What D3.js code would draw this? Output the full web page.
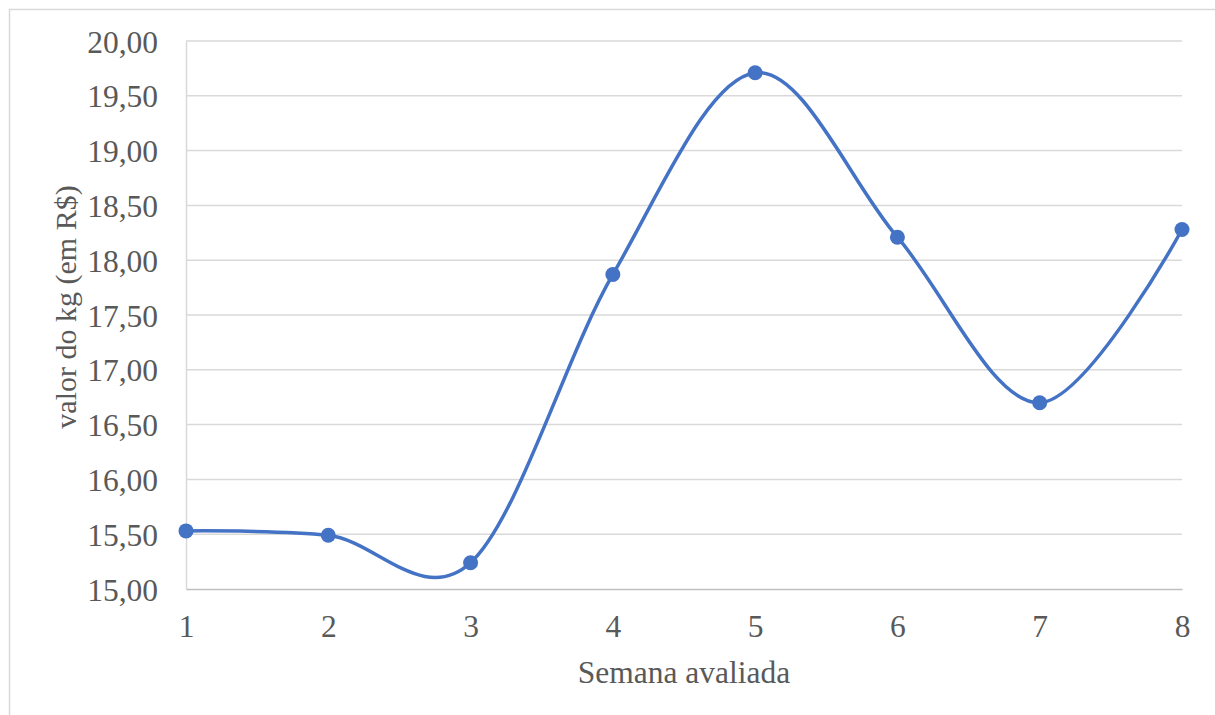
<!DOCTYPE html>
<html>
<head>
<meta charset="utf-8">
<script src="https://cdn.jsdelivr.net/npm/d3@7"></script>
<style>
  body { margin: 0; background: #fff; }
</style>
</head>
<body>
<div id="chart"></div>
<script>
// semanas e preço do kg
const weeks = [1, 2, 3, 4, 5, 6, 7, 8];
const prices = [15.53, 15.49, 15.24, 17.87, 19.71, 18.21, 16.70, 18.28];
const yTicks = [15, 15.5, 16, 16.5, 17, 17.5, 18, 18.5, 19, 19.5, 20];

const FONT = "'Liberation Serif', 'Times New Roman', serif";
const W = 1215, H = 715;
const margin = {top: 41, right: 33, bottom: 126, left: 186};
const width = W - margin.left - margin.right;
const height = H - margin.top - margin.bottom;

const svg = d3.select("#chart").append("svg")
    .attr("width", W)
    .attr("height", H);

// moldura do gráfico
svg.append("rect")
    .attr("x", 9.5).attr("y", 9.5)
    .attr("width", W).attr("height", H)
    .attr("fill", "none")
    .attr("stroke", "#d9d9d9")
    .attr("stroke-width", 1.5);

const g = svg.append("g")
    .attr("transform", `translate(${margin.left},${margin.top})`);

const x = d3.scaleLinear().domain([1, 8]).range([0, width]);
const y = d3.scaleLinear().domain([15, 20]).range([height, 0]);

const fmt = v => v.toFixed(2).replace(".", ",");

// grid
g.append("g")
    .selectAll("line")
    .data(yTicks.slice(1))
    .enter()
    .append("line")
    .attr("x1", 0).attr("x2", width)
    .attr("y1", d => y(d)).attr("y2", d => y(d))
    .attr("stroke", "#d9d9d9")
    .attr("stroke-width", 1.5);

// eixo y
const yAxis = g.append("g")
    .call(d3.axisLeft(y).tickValues(yTicks).tickFormat(fmt).tickSize(0).tickPadding(28))
    .attr("font-family", null);
yAxis.select(".domain").attr("stroke", "#d9d9d9").attr("stroke-width", 1.5);
yAxis.selectAll("text")
    .style("font-family", FONT)
    .style("font-size", "31.5px")
    .style("fill", "#595959")
    .attr("dy", "0.35em");

// eixo x
const xAxis = g.append("g")
    .attr("transform", `translate(0,${height})`)
    .call(d3.axisBottom(x).tickValues(weeks).tickFormat(d3.format("d")).tickSize(0).tickPadding(26))
    .attr("font-family", null);
xAxis.select(".domain").attr("stroke", "#bfbfbf").attr("stroke-width", 1.5);
xAxis.selectAll("text")
    .style("font-family", FONT)
    .style("font-size", "31.5px")
    .style("fill", "#595959")
    .attr("dy", "0.71em");

// títulos dos eixos
svg.append("text")
    .attr("text-anchor", "middle")
    .attr("x", margin.left + width / 2)
    .attr("y", 683)
    .style("font-family", FONT)
    .style("font-size", "31.5px")
    .style("fill", "#595959")
    .text("Semana avaliada");

svg.append("text")
    .attr("text-anchor", "middle")
    .attr("transform", "translate(76,307) rotate(-90)")
    .style("font-family", FONT)
    .style("font-size", "30px")
    .style("fill", "#595959")
    .text("valor do kg (em R$)");

// linha suavizada
const line = d3.line()
    .x((d, i) => x(weeks[i]))
    .y(d => y(d))
    .curve(d3.curveCardinal.tension(0));

g.append("path")
    .datum(prices)
    .attr("fill", "none")
    .attr("stroke", "#4472c4")
    .attr("stroke-width", 3.5)
    .attr("d", line);

g.append("g")
    .selectAll("circle")
    .data(prices)
    .enter()
    .append("circle")
    .attr("cx", (d, i) => x(weeks[i]))
    .attr("cy", d => y(d))
    .attr("r", 7.5)
    .attr("fill", "#4472c4");
</script>
</body>
</html>
